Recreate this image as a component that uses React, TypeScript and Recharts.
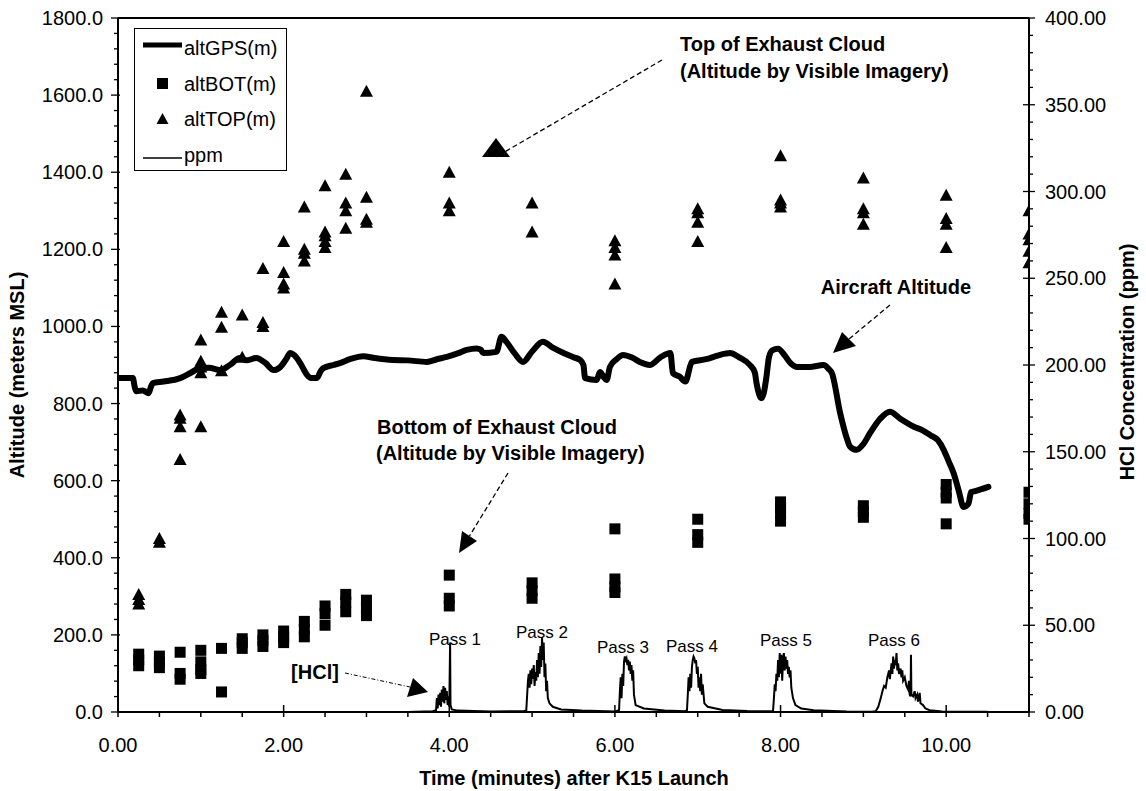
import React from "react";
import {
  ComposedChart,
  Line,
  Scatter,
  XAxis,
  YAxis,
  ReferenceLine,
  Legend,
} from "recharts";

// ---------- DATA ----------
const xTicks = [0, 0.5, 1, 1.5, 2, 2.5, 3, 3.5, 4, 4.5, 5, 5.5, 6, 6.5, 7, 7.5, 8, 8.5, 9, 9.5, 10, 10.5, 11];
const xMajorLabels = ["0.00", "2.00", "4.00", "6.00", "8.00", "10.00"];
const leftMajorTicks = [0, 200, 400, 600, 800, 1000, 1200, 1400, 1600, 1800];
const rightMajorTicks = [0, 50, 100, 150, 200, 250, 300, 350, 400];

// Aircraft altitude (GPS), minutes / metres
const gpsT = [0, 0.18, 0.2, 0.22, 0.3, 0.37, 0.4, 0.42, 0.55, 0.75, 0.88, 0.99, 1.1, 1.23, 1.35, 1.47, 1.55, 1.67, 1.78, 1.88, 1.96, 2.03, 2.08, 2.13, 2.2, 2.28, 2.33, 2.4, 2.45, 2.48, 2.6, 2.68, 2.8, 2.96, 3.1, 3.32, 3.5, 3.73, 3.85, 3.97, 4.1, 4.21, 4.33, 4.38, 4.41, 4.57, 4.63, 4.69, 4.79, 4.89, 5.0, 5.13, 5.25, 5.38, 5.5, 5.58, 5.62, 5.64, 5.78, 5.82, 5.86, 5.9, 5.94, 6.02, 6.1, 6.2, 6.3, 6.42, 6.55, 6.67, 6.7, 6.78, 6.85, 6.93, 7.1, 7.25, 7.39, 7.5, 7.63, 7.69, 7.71, 7.77, 7.8, 7.83, 7.86, 7.9, 7.97, 8.05, 8.12, 8.2, 8.35, 8.52, 8.58, 8.62, 8.72, 8.8, 8.84, 8.92, 9.0, 9.08, 9.2, 9.32, 9.45, 9.61, 9.72, 9.81, 9.9, 9.97, 10.03, 10.09, 10.15, 10.21, 10.27, 10.3, 10.35, 10.51];
const gpsV = [866, 866, 845, 832, 834, 827, 845, 853, 857, 866, 880, 892, 893, 887, 900, 918, 912, 918, 905, 887, 895, 915, 931, 925, 905, 875, 866, 866, 885, 892, 900, 905, 915, 923, 918, 913, 912, 908, 915, 921, 930, 939, 943, 940, 931, 934, 973, 960, 930, 908, 935, 960, 945, 931, 920, 913, 900, 866, 861, 882, 870, 861, 895, 915, 926, 920, 908, 900, 920, 931, 879, 870, 857, 908, 915, 925, 931, 920, 900, 880, 853, 814, 830, 870, 920, 938, 942, 925, 905, 895, 895, 900, 890, 879, 775, 710, 688, 680, 695, 723, 760, 779, 760, 740, 730, 718, 705, 680, 650, 619, 575, 532, 541, 570, 573, 584];

// HCl concentration (ppm)
const ppmT = [0, 3.5, 3.8, 3.84, 3.85, 3.86, 3.87, 3.88, 3.89, 3.9, 3.91, 3.92, 3.93, 3.94, 3.95, 3.96, 3.97, 3.98, 3.99, 4.0, 4.01, 4.015, 4.03, 4.1, 4.5, 4.9,
  4.93, 4.95, 4.96, 4.97, 4.98, 4.99, 5.0, 5.01, 5.02, 5.03, 5.04, 5.05, 5.06, 5.07, 5.08, 5.09, 5.1, 5.11, 5.12, 5.13, 5.14, 5.15, 5.16, 5.17, 5.18, 5.19, 5.21, 5.25, 5.35, 5.6, 6.0,
  6.05, 6.06, 6.07, 6.08, 6.09, 6.1, 6.11, 6.12, 6.13, 6.14, 6.15, 6.16, 6.17, 6.18, 6.19, 6.2, 6.21, 6.22, 6.23, 6.25, 6.35, 6.6, 6.85,
  6.87, 6.88, 6.89, 6.9, 6.91, 6.92, 6.93, 6.94, 6.95, 6.96, 6.97, 6.98, 6.99, 7.0, 7.01, 7.02, 7.03, 7.04, 7.05, 7.06, 7.08, 7.12, 7.3, 7.6, 7.9,
  7.91, 7.92, 7.93, 7.94, 7.95, 7.96, 7.97, 7.98, 7.99, 8.0, 8.01, 8.02, 8.03, 8.04, 8.05, 8.06, 8.07, 8.08, 8.09, 8.1, 8.11, 8.12, 8.13, 8.15, 8.18, 8.25, 8.4, 8.8, 9.1,
  9.15, 9.18, 9.21, 9.23, 9.25, 9.27, 9.29, 9.31, 9.32, 9.34, 9.35, 9.36, 9.37, 9.38, 9.39, 9.4, 9.41, 9.42, 9.43, 9.45, 9.46, 9.47, 9.48, 9.5, 9.52, 9.54, 9.55, 9.56, 9.57, 9.575, 9.58, 9.6, 9.62, 9.63, 9.65, 9.66, 9.68, 9.69, 9.72, 9.75, 9.8, 9.95, 10.5];
const ppmV = [0, 0, 0.5, 1, 8, 2, 10, 4, 11, 3, 13, 6, 15, 5, 14, 7, 12, 4, 9, 3, 40, 4, 1.5, 0.8, 0.3, 0.5,
  1, 18, 22, 14, 24, 16, 25, 19, 27, 15, 23, 18, 30, 20, 34, 22, 38, 26, 43, 30, 40, 20, 28, 12, 18, 8, 5, 3, 1.5, 0.8, 0.3,
  1, 12, 20, 8, 22, 15, 29, 32, 30, 31, 27, 30, 24, 29, 22, 27, 18, 24, 10, 4, 2, 0.8, 0.5,
  1, 10, 20, 12, 22, 14, 26, 30, 32, 31, 28, 30, 22, 26, 14, 20, 12, 22, 10, 16, 5, 3, 1.2, 0.6, 0.4,
  1, 8, 16, 12, 22, 18, 30, 20, 34, 22, 33, 18, 30, 34, 24, 32, 25, 30, 22, 26, 20, 24, 14, 8, 4, 2, 1, 0.3, 0.2,
  0.5, 3, 8, 12, 15, 14, 20, 24, 19, 28, 22, 32, 25, 30, 27, 34, 24, 28, 22, 25, 20, 24, 18, 20, 15, 13, 18, 10, 9, 33, 10, 9, 12, 8, 10, 6, 11, 5, 4, 2, 1, 0.3, 0.2];

// Bottom of exhaust cloud (visible imagery), minutes / metres
const botT = [0.25, 0.25, 0.25, 0.5, 0.5, 0.5, 0.75, 0.75, 0.75, 1, 1, 1, 1, 1.25, 1.25, 1.5, 1.5, 1.5, 1.75, 1.75, 1.75, 2, 2, 2, 2.25, 2.25, 2.25, 2.5, 2.5, 2.5, 2.75, 2.75, 2.75, 3, 3, 3, 4, 4, 4, 5, 5, 5, 6, 6, 6, 6, 7, 7, 7, 8, 8, 8, 8, 9, 9, 9, 10, 10, 10, 10, 11, 11, 11, 11];
const botV = [150, 135, 120, 145, 130, 115, 155, 100, 85, 160, 130, 110, 100, 165, 52, 190, 180, 165, 200, 185, 170, 210, 195, 180, 235, 215, 195, 275, 255, 225, 305, 285, 260, 290, 270, 250, 355, 295, 275, 335, 315, 295, 475, 345, 325, 310, 500, 460, 440, 545, 530, 515, 495, 535, 520, 505, 590, 570, 555, 488, 570, 540, 515, 500];

// Top of exhaust cloud (visible imagery), minutes / metres
const topT = [0.25, 0.25, 0.25, 0.5, 0.5, 0.75, 0.75, 0.75, 0.75, 1, 1, 1, 1, 1, 1.25, 1.25, 1.25, 1.5, 1.5, 1.75, 1.75, 1.75, 2, 2, 2, 2, 2.25, 2.25, 2.25, 2.25, 2.5, 2.5, 2.5, 2.5, 2.5, 2.75, 2.75, 2.75, 2.75, 3, 3, 3, 3, 4, 4, 4, 5, 5, 6, 6, 6, 6, 7, 7, 7, 7, 8, 8, 8, 8, 9, 9, 9, 9, 10, 10, 10, 10, 11, 11, 11, 11, 11];
const topV = [305, 292, 280, 450, 440, 770, 762, 740, 655, 965, 910, 895, 880, 740, 1037, 998, 885, 1030, 920, 1150, 1010, 1000, 1220, 1140, 1110, 1100, 1310, 1200, 1190, 1170, 1365, 1245, 1235, 1220, 1205, 1395, 1320, 1300, 1255, 1610, 1335, 1278, 1270, 1400, 1320, 1300, 1320, 1245, 1222, 1205, 1185, 1110, 1305, 1295, 1270, 1220, 1443, 1328, 1320, 1310, 1385, 1305, 1295, 1265, 1340, 1280, 1265, 1205, 1300, 1240, 1225, 1195, 1165];

const gpsData = gpsT.map((t, i) => ({ t, v: gpsV[i] }));
const ppmData = ppmT.map((t, i) => ({ t, v: ppmV[i] }));
const botData = botT.map((t, i) => ({ t, v: botV[i] }));
const topData = topT.map((t, i) => ({ t, v: topV[i] }));

const leftTicks = Array.from({ length: 46 }, (_, i) => i * 40);
const rightTicks = Array.from({ length: 41 }, (_, i) => i * 10);

const FONT = "'Liberation Sans', Arial, Helvetica, sans-serif";
const W = 1146;
const H = 791;

// ---------- TICKS ----------
const XTick = (props: any) => {
  const { x, y, payload } = props;
  const v = payload.value;
  const idx = [0, 2, 4, 6, 8, 10].indexOf(v);
  const major = idx >= 0;
  return (
    <g>
      <line x1={x} x2={x} y1={major ? y - 7 : y} y2={y + 5} stroke="#000" strokeWidth={1.5} />
      {major && (
        <text x={x} y={y + 40} textAnchor="middle" fontSize={20} fill="#000" fontFamily={FONT}>
          {xMajorLabels[idx]}
        </text>
      )}
    </g>
  );
};

const LeftTick = (props: any) => {
  const { x, y, payload } = props;
  const v = payload.value;
  const major = leftMajorTicks.includes(v);
  return (
    <g>
      <line x1={major ? x - 7 : x - 4} x2={major ? x + 2 : x} y1={y} y2={y} stroke="#000" strokeWidth={1.3} />
      {major && (
        <text x={x - 15} y={y + 7} textAnchor="end" fontSize={20} fill="#000" fontFamily={FONT}>
          {v.toFixed(1)}
        </text>
      )}
    </g>
  );
};

const RightTick = (props: any) => {
  const { x, y, payload } = props;
  const v = payload.value;
  const major = rightMajorTicks.includes(v);
  return (
    <g>
      <line x1={major ? x - 6 : x} x2={major ? x + 6 : x + 4} y1={y} y2={y} stroke="#000" strokeWidth={1.3} />
      {major && (
        <text x={x + 16} y={y + 7} textAnchor="start" fontSize={20} fill="#000" fontFamily={FONT}>
          {v.toFixed(2)}
        </text>
      )}
    </g>
  );
};

// ---------- MARKERS ----------
const SquareShape = (props: any) => {
  const { cx, cy } = props;
  return <rect x={cx - 5.5} y={cy - 5.5} width={11} height={11} fill="#000" />;
};
const TriangleShape = (props: any) => {
  const { cx, cy } = props;
  return <polygon points={`${cx},${cy - 6.5} ${cx - 6.5},${cy + 5.5} ${cx + 6.5},${cy + 5.5}`} fill="#000" />;
};

// ---------- LEGEND ----------
const legendItems = [
  { name: "altGPS(m)", kind: "thick" },
  { name: "altBOT(m)", kind: "square" },
  { name: "altTOP(m)", kind: "triangle" },
  { name: "ppm", kind: "thin" },
];

const LegendBox = () => (
  <div
    style={{
      width: 153,
      height: 143,
      border: "1.5px solid #000",
      background: "#fff",
      fontFamily: FONT,
      fontSize: 20,
      boxSizing: "border-box",
      position: "relative",
    }}
  >
    {legendItems.map((it, i) => (
      <div
        key={it.name}
        style={{ position: "absolute", left: 0, top: 4 + i * 35.5, height: 30, display: "flex", alignItems: "center" }}
      >
        <svg width={48} height={30} style={{ display: "block" }}>
          {it.kind === "thick" && <line x1={8} x2={47} y1={12} y2={12} stroke="#000" strokeWidth={5} />}
          {it.kind === "thin" && <line x1={8} x2={47} y1={18} y2={18} stroke="#000" strokeWidth={1.6} />}
          {it.kind === "square" && <rect x={22} y={9} width={11} height={11} fill="#000" />}
          {it.kind === "triangle" && <polygon points="27.5,9 21.5,20 33.5,20" fill="#000" />}
        </svg>
        <span style={{ lineHeight: "30px", color: "#000", marginLeft: 1 }}>{it.name}</span>
      </div>
    ))}
  </div>
);

// ---------- ANNOTATIONS ----------
const Arrow = ({ x1, y1, tip, base1, base2 }: any) => (
  <g>
    <line x1={x1} y1={y1} x2={(base1[0] + base2[0]) / 2} y2={(base1[1] + base2[1]) / 2} stroke="#000" strokeWidth={1.3} strokeDasharray="5 3" />
    <polygon points={`${tip[0]},${tip[1]} ${base1[0]},${base1[1]} ${base2[0]},${base2[1]}`} fill="#000" />
  </g>
);

const passLabels = [
  { text: "Pass 1", x: 455, y: 645 },
  { text: "Pass 2", x: 542, y: 638 },
  { text: "Pass 3", x: 623, y: 653 },
  { text: "Pass 4", x: 692, y: 652 },
  { text: "Pass 5", x: 786, y: 646 },
  { text: "Pass 6", x: 894, y: 646 },
];

const Overlay = () => (
  <svg
    width={W}
    height={H}
    style={{ position: "absolute", left: 0, top: 0, pointerEvents: "none" }}
    fontFamily={FONT}
  >
    {/* axis titles */}
    <text x={17} y={375} transform="rotate(-90 17 375)" textAnchor="middle" dominantBaseline="central" fontSize={20} fontWeight="bold">
      Altitude (meters MSL)
    </text>
    <text x={1127} y={362} transform="rotate(-90 1127 362)" textAnchor="middle" dominantBaseline="central" fontSize={20} fontWeight="bold">
      HCl Concentration (ppm)
    </text>
    <text x={574} y={785} textAnchor="middle" fontSize={20} fontWeight="bold">
      Time (minutes) after K15 Launch
    </text>

    {/* Top of cloud */}
    <text x={680} y={51} fontSize={20} fontWeight="bold">Top of Exhaust Cloud</text>
    <text x={680} y={78} fontSize={20} fontWeight="bold">(Altitude by Visible Imagery)</text>
    <Arrow x1={662} y1={60} tip={[496, 138]} base1={[482, 157]} base2={[510, 157]} />

    {/* Aircraft altitude */}
    <text x={896} y={294} textAnchor="middle" fontSize={20} fontWeight="bold">Aircraft Altitude</text>
    <Arrow x1={890} y1={305} tip={[833, 353]} base1={[842, 332]} base2={[856, 346]} />

    {/* Bottom of cloud */}
    <text x={377} y={434} fontSize={20} fontWeight="bold">Bottom of Exhaust Cloud</text>
    <text x={376} y={460} fontSize={20} fontWeight="bold">(Altitude by Visible Imagery)</text>
    <Arrow x1={508} y1={473} tip={[459, 553]} base1={[462, 531]} base2={[477, 541]} />

    {/* HCl */}
    <text x={315} y={679} textAnchor="middle" fontSize={20} fontWeight="bold">[HCl]</text>
    <line x1={345} y1={673} x2={410} y2={687} stroke="#000" strokeWidth={1} strokeDasharray="4 2 1 2" />
    <polygon points="428,692 407,697 413,678" fill="#000" />

    {passLabels.map((p) => (
      <text key={p.text} x={p.x} y={p.y} textAnchor="middle" fontSize={17}>
        {p.text}
      </text>
    ))}
  </svg>
);

export default function App() {
  return (
    <div style={{ position: "absolute", left: 0, top: 0, width: W, height: H, background: "#fff", fontFamily: FONT }}>
      <ComposedChart width={W} height={H} margin={{ top: 18, right: 0, bottom: 19, left: 0 }}>
        <XAxis
          xAxisId="x"
          dataKey="t"
          type="number"
          domain={[0, 11]}
          ticks={xTicks}
          interval={0}
          allowDataOverflow
          height={60}
          tickSize={0}
          tickMargin={0}
          tickLine={false}
          axisLine={{ stroke: "#000", strokeWidth: 2 }}
          tick={<XTick />}
        />
        <YAxis
          yAxisId="left"
          orientation="left"
          type="number"
          domain={[0, 1800]}
          ticks={leftTicks}
          interval={0}
          allowDataOverflow
          width={118}
          tickSize={0}
          tickMargin={0}
          tickLine={false}
          axisLine={{ stroke: "#000", strokeWidth: 2 }}
          tick={<LeftTick />}
        />
        <YAxis
          yAxisId="right"
          orientation="right"
          type="number"
          domain={[0, 400]}
          ticks={rightTicks}
          interval={0}
          allowDataOverflow
          width={117}
          tickSize={0}
          tickMargin={0}
          tickLine={false}
          axisLine={{ stroke: "#000", strokeWidth: 2 }}
          tick={<RightTick />}
        />
        <ReferenceLine xAxisId="x" yAxisId="left" y={1800} stroke="#000" strokeWidth={2} />
        <Legend
          layout="horizontal"
          verticalAlign="middle"
          align="center"
          wrapperStyle={{ left: 134, top: 28, width: 153, height: 143 }}
          content={() => <LegendBox />}
        />
        <Line
          xAxisId="x"
          yAxisId="right"
          data={ppmData}
          dataKey="v"
          name="ppm"
          type="linear"
          stroke="#000"
          strokeWidth={2}
          dot={false}
          isAnimationActive={false}
        />
        <Line
          xAxisId="x"
          yAxisId="left"
          data={gpsData}
          dataKey="v"
          name="altGPS(m)"
          type="monotone"
          stroke="#000"
          strokeWidth={6}
          strokeLinejoin="round"
          strokeLinecap="round"
          dot={false}
          isAnimationActive={false}
        />
        <Scatter
          xAxisId="x"
          yAxisId="left"
          data={botData}
          dataKey="v"
          name="altBOT(m)"
          fill="#000"
          shape={<SquareShape />}
          isAnimationActive={false}
        />
        <Scatter
          xAxisId="x"
          yAxisId="left"
          data={topData}
          dataKey="v"
          name="altTOP(m)"
          fill="#000"
          shape={<TriangleShape />}
          isAnimationActive={false}
        />
      </ComposedChart>
      <Overlay />
    </div>
  );
}
